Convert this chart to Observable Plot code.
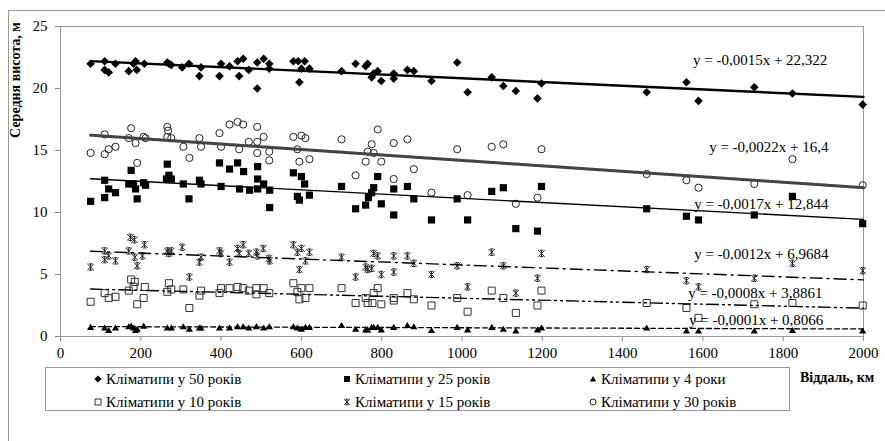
<!DOCTYPE html>
<html><head><meta charset="utf-8">
<script src="https://cdn.jsdelivr.net/npm/d3@7"></script>
<script src="https://cdn.jsdelivr.net/npm/@observablehq/plot@0.6"></script>
<style>
html,body{margin:0;padding:0;background:#fff;overflow:hidden;}
#wrap{position:relative;width:885px;height:441px;overflow:hidden;font-family:"Liberation Serif","Times New Roman",serif;background:#fff}
#outer{position:absolute;left:8px;top:10px;width:900px;height:460px;border:1px solid #9a9a9a;box-sizing:border-box}
#chart{position:absolute;left:0;top:0}
#legend{position:absolute;left:45px;top:367px;width:745px;height:44px;border:1px solid #9a9a9a;box-sizing:border-box;background:#fff}
.item{position:absolute;font-size:15px;line-height:18px;white-space:nowrap;display:flex;align-items:center;color:#000}
.item svg{margin-right:3px}
#xlabel{position:absolute;left:800px;top:370px;font-weight:bold;font-size:14px;color:#000}
</style></head><body>
<div id="wrap"><div id="outer"></div><div id="chart"></div><div id="legend"></div><div id="xlabel">Віддаль, км</div></div>
<script>
// ---- data (km, mean height m) ----
const x50 = [75,110,110,120,137,170,182,187,190,209,266,270,276,303,320,346,350,396,400,421,441,445,455,469,490,490,506,520,520,580,592,600,608,620,595,700,735,760,765,775,780,790,799,830,830,864,880,924,988,1014,1074,1103,1134,1188,1198,1460,1559,1589,1728,1823,1998];
const y50 = [22.0,22.2,21.5,21.3,22.0,21.4,22.0,22.2,21.5,22.0,22.1,22.0,21.9,21.7,22.0,21.0,21.7,21.0,22.0,21.8,22.2,21.0,22.4,21.5,22.1,20.0,22.4,22.0,21.6,22.2,22.2,21.6,22.2,21.6,20.5,21.4,22.0,21.8,22.0,20.9,21.2,21.4,20.6,21.2,20.8,21.5,21.4,20.6,22.1,19.7,20.9,20.2,19.8,19.2,20.4,19.7,20.5,19.0,20.1,19.6,18.7];

const x25 = [75,110,110,120,137,170,176,182,187,191,207,212,264,266,270,276,306,320,346,350,400,396,421,441,456,446,471,491,491,491,506,521,521,580,600,608,590,595,620,700,735,760,767,775,780,790,799,830,830,864,880,924,988,1014,1074,1103,1134,1188,1198,1460,1559,1589,1728,1823,1998];
const y25 = [10.9,11.2,12.6,11.9,11.6,12.3,13.4,12.3,11.9,11.1,12.4,12.2,12.7,13.9,13.0,12.7,12.3,11.1,12.6,12.3,12.1,14.0,13.5,14.0,13.3,11.9,11.8,13.7,12.7,11.9,12.3,11.8,10.4,13.2,12.9,12.3,11.3,11.0,11.4,12.1,10.3,10.6,11.2,11.6,12.0,12.9,10.7,11.9,9.8,12.1,11.1,9.4,11.1,9.4,11.7,12.0,8.7,8.5,12.1,10.3,9.7,9.4,9.8,11.3,9.1];

const x30 = [75,110,110,120,137,170,176,187,191,207,212,266,268,266,276,306,321,346,350,396,400,421,441,455,445,469,490,490,490,506,520,520,580,600,610,590,595,620,700,735,760,765,775,780,790,799,830,830,864,880,924,988,1014,1074,1103,1134,1188,1198,1460,1559,1589,1728,1823,1998];
const y30 = [14.8,16.3,14.7,15.1,15.3,16.0,16.8,15.6,14.0,16.1,16.0,16.9,16.6,16.1,16.0,15.3,14.4,16.0,15.3,16.4,15.3,17.1,17.3,17.1,15.1,15.7,16.9,15.7,14.8,16.1,14.9,14.2,16.1,16.2,16.0,15.1,14.1,14.3,15.9,13.0,14.1,14.9,15.5,14.8,16.7,14.1,15.6,12.7,15.9,13.5,11.6,15.1,11.4,15.3,15.5,10.7,11.2,15.1,13.1,12.6,12.0,12.3,14.3,12.2];

const x15 = [75,110,110,120,137,170,174,184,185,191,204,209,266,270,276,303,321,346,350,396,400,421,441,445,455,469,488,490,505,519,521,580,590,595,600,610,620,700,735,760,765,775,780,790,799,830,830,864,880,924,988,1014,1074,1103,1134,1188,1198,1460,1559,1589,1728,1823,1998];
const y15 = [5.6,6.9,6.2,6.5,6.1,6.9,8.0,7.8,6.4,5.7,6.5,7.4,6.9,6.7,6.9,7.2,4.8,6.0,6.4,6.9,6.7,6.0,7.1,6.7,7.4,6.7,6.8,6.5,7.1,6.3,6.1,7.4,6.8,5.4,7.1,6.1,6.8,6.4,4.8,5.6,5.4,5.5,6.7,6.5,5.0,6.5,5.2,6.5,5.9,5.0,5.7,4.0,6.8,5.7,3.5,4.7,6.7,5.4,4.5,4.0,4.7,5.9,5.3];

const x10 = [75,110,120,137,170,176,182,185,191,207,210,266,270,276,306,321,346,350,396,400,421,441,455,469,488,488,506,520,580,590,595,600,610,620,700,735,760,765,777,780,790,799,830,830,864,880,924,988,1014,1074,1103,1134,1188,1198,1460,1559,1589,1728,1823,1998];
const y10 = [2.8,3.5,3.1,3.2,3.7,4.6,4.0,4.4,2.6,3.1,4.0,3.6,4.3,3.8,3.8,2.3,3.3,3.7,3.5,3.9,3.9,4.0,3.9,3.7,3.9,3.4,3.9,3.5,4.3,3.6,3.0,3.9,3.1,3.9,3.9,2.7,3.1,2.7,2.7,3.5,3.9,2.6,3.1,2.9,3.5,3.0,2.5,3.1,2.0,3.7,3.1,1.9,2.5,3.7,2.7,2.3,1.5,2.6,2.7,2.5];

const x4 = [75,110,120,137,170,176,182,187,191,207,266,276,306,321,346,350,396,421,441,455,469,488,506,520,580,590,600,610,620,700,735,760,765,775,780,790,799,830,864,880,924,988,1014,1074,1103,1134,1188,1198,1460,1559,1589,1728,1823,1998];
const y4 = [0.75,0.7,0.5,0.7,0.8,0.85,0.7,0.5,0.6,0.85,0.7,0.7,0.8,0.6,0.7,0.7,0.7,0.7,0.8,0.8,0.7,0.8,0.7,0.8,0.8,0.7,0.6,0.75,0.75,0.9,0.6,0.55,0.55,0.75,0.75,0.75,0.55,0.75,0.9,0.8,0.5,0.75,0.55,0.75,0.6,0.45,0.55,0.7,0.7,0.45,0.45,0.45,0.5,0.45];

// trendline equations shown on the chart
const seriesNames = ["Кліматипи у 50 років","Кліматипи у 30 років","Кліматипи у 25 років","Кліматипи у 15 років","Кліматипи у 10 років","Кліматипи у 4 роки"];
const trendSlope = [-0.0015,-0.0022,-0.0017,-0.0012,-0.0008,-0.0001];
const trendIntercept = [22.322,16.4,12.844,6.9684,3.8861,0.8066];
const trendLabels = ["y = -0,0015x + 22,322","y = -0,0022x + 16,4","y = -0,0017x + 12,844","y = -0,0012x + 6,9684","y = -0,0008x + 3,8861","y = -0,0001x + 0,8066"];
const trendRange = [75, 2000];
const xTicks = [0,200,400,600,800,1000,1200,1400,1600,1800,2000];
const yTicks = [0,5,10,15,20,25];

// ---- layout / styles ----
const labelPos = [[1910,22.26],[1913,15.24],[1913,10.65],[1913,6.61],[1898,3.47],[1900,1.29]];
const FONT = '"Liberation Serif","Times New Roman",serif';

function sym(fn){ return {draw(ctx, size){ const h = Math.sqrt(size/Math.PI); fn(ctx,h); }}; }
const symDiamond = sym((c,h)=>{c.moveTo(0,-h);c.lineTo(h,0);c.lineTo(0,h);c.lineTo(-h,0);c.closePath();});
const symSquare = sym((c,h)=>{c.rect(-h,-h,2*h,2*h);});
const symTriangle = sym((c,h)=>{c.moveTo(0,-h*0.95);c.lineTo(h,h*0.75);c.lineTo(-h,h*0.75);c.closePath();});
const symCircle = sym((c,h)=>{c.moveTo(h,0);c.arc(0,0,h,0,2*Math.PI);});
const symStar = sym((c,h)=>{
  c.moveTo(-h,-h);c.lineTo(h,h);c.moveTo(-h,h);c.lineTo(h,-h);
  c.moveTo(0,-h);c.lineTo(0,h);
  c.moveTo(-h*0.55,-h);c.lineTo(h*0.55,-h);c.moveTo(-h*0.55,h);c.lineTo(h*0.55,h);
});

const zip = (xs, ys) => xs.map((x,i)=>({x, y: ys[i]}));
const trend = i => trendRange.map(x => ({x, y: trendSlope[i]*x + trendIntercept[i]}));

const lineStyles = [
  {stroke:"#000", strokeWidth:2.4},
  {stroke:"#444", strokeWidth:3, strokeDasharray:"1 0.7"},
  {stroke:"#000", strokeWidth:1.4},
  {stroke:"#000", strokeWidth:1.4, strokeDasharray:"12 5 2 5"},
  {stroke:"#000", strokeWidth:1.4, strokeDasharray:"12 4 2 4 2 4"},
  {stroke:"#000", strokeWidth:1.3, strokeDasharray:"5 3"}
];

const chart = Plot.plot({
  width: 885, height: 365,
  marginLeft: 60, marginRight: 22, marginTop: 26, marginBottom: 29,
  style: {fontFamily: FONT, fontSize: "15px", background: "transparent", color: "#000"},
  x: {domain: [0, 2000]},
  y: {domain: [0, 25]},
  marks: [
    Plot.frame({stroke: "#9a9a9a"}),
    Plot.axisY({ticks: yTicks, tickSize: 5, tickPadding: 8, stroke: "#8c8c8c", fill: "#000", label: null, fontSize: 15}),
    Plot.axisX({ticks: xTicks, tickFormat: d => String(d), tickSize: 5, tickPadding: 6, stroke: "#8c8c8c", fill: "#000", label: null, fontSize: 15}),
    Plot.dot(zip(x4, y4), {x:"x", y:"y", symbol: symTriangle, r: 3.6, fill:"#000", stroke:"none"}),
    Plot.dot(zip(x10, y10), {x:"x", y:"y", symbol: symSquare, r: 3.5, fill:"none", stroke:"#333", strokeWidth:1}),
    Plot.dot(zip(x15, y15), {x:"x", y:"y", symbol: symStar, r: 3.2, fill:"none", stroke:"#222", strokeWidth:1}),
    Plot.dot(zip(x25, y25), {x:"x", y:"y", symbol: symSquare, r: 3.6, fill:"#000", stroke:"none"}),
    Plot.dot(zip(x30, y30), {x:"x", y:"y", symbol: symCircle, r: 3.6, fill:"none", stroke:"#222", strokeWidth:1}),
    Plot.dot(zip(x50, y50), {x:"x", y:"y", symbol: symDiamond, r: 4.3, fill:"#000", stroke:"none"}),
    ...lineStyles.map((s, i) => Plot.line(trend(i), {x:"x", y:"y", ...s})),
    Plot.text(trendLabels.map((t,i)=>({t, x: labelPos[i][0], y: labelPos[i][1]})),
      {x:"x", y:"y", text:"t", textAnchor:"end", fontSize: 15, fill:"#000"})
  ]
});
document.getElementById("chart").appendChild(chart);

// y axis title
d3.select(chart).append("text")
  .attr("transform", "translate(17,80) rotate(-90)")
  .attr("text-anchor", "middle").attr("dominant-baseline", "middle")
  .attr("font-weight", "bold").attr("font-size", 14).attr("font-family", FONT)
  .attr("fill", "#000")
  .text("Середня висота, м");

// legend
const legendItems = [
  {name: seriesNames[0], sym: symDiamond, r: 3.6, fill:"#000", stroke:"none", row:0, col:0},
  {name: seriesNames[2], sym: symSquare, r: 3.0, fill:"#000", stroke:"none", row:0, col:1},
  {name: seriesNames[5], sym: symTriangle, r: 3.2, fill:"#000", stroke:"none", row:0, col:2},
  {name: seriesNames[4], sym: symSquare, r: 3.0, fill:"none", stroke:"#333", row:1, col:0},
  {name: seriesNames[3], sym: symStar, r: 2.8, fill:"none", stroke:"#222", row:1, col:1},
  {name: seriesNames[1], sym: symCircle, r: 3.0, fill:"none", stroke:"#222", row:1, col:2}
];
const colLeft = [47, 296, 542];
const rowTop = [2, 25];
const legend = d3.select("#legend");
legendItems.forEach(it => {
  const div = legend.append("div").attr("class","item")
    .style("left", colLeft[it.col] + "px").style("top", rowTop[it.row] + "px");
  const svg = div.append("svg").attr("width", 10).attr("height", 10);
  const p = d3.path();
  it.sym.draw(p, it.r*it.r*Math.PI);
  svg.append("path").attr("transform","translate(5,5)").attr("d", p.toString())
    .attr("fill", it.fill).attr("stroke", it.stroke).attr("stroke-width", 1);
  div.append("span").text(it.name);
});
</script>
</body></html>
